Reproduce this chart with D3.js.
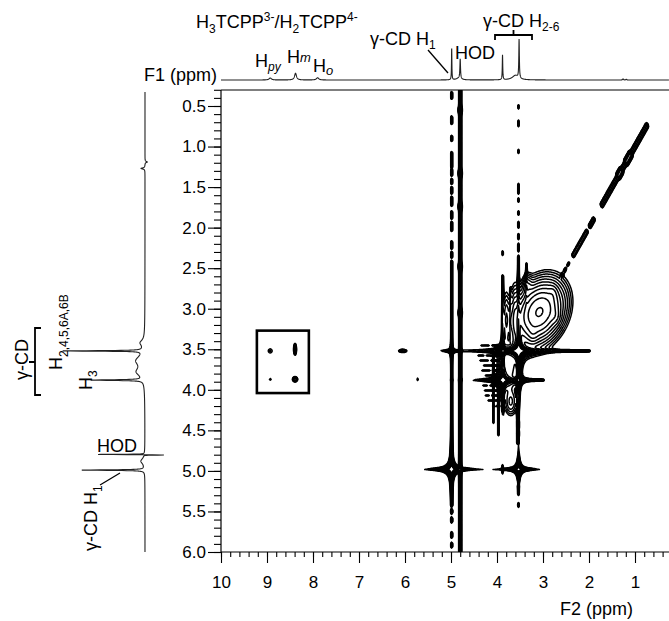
<!DOCTYPE html>
<html>
<head>
<meta charset="utf-8">
<script src="https://cdn.jsdelivr.net/npm/d3@7"></script>
<style>
  html, body { margin: 0; padding: 0; background: #fff; }
  svg { display: block; font-family: "Liberation Sans", Arial, Helvetica, sans-serif; }
</style>
</head>
<body>
<svg id="noesy" width="669" height="621"></svg>
<script>
// ---------- axis tick values (ppm) ----------
const f1MajorTicks = [0.5, 1.0, 1.5, 2.0, 2.5, 3.0, 3.5, 4.0, 4.5, 5.0, 5.5, 6.0];
const f2MajorTicks = [10, 9, 8, 7, 6, 5, 4, 3, 2, 1];

// ---------- 1D 1H projections: [shift ppm, relative height, half-width ppm] ----------
const f2Projection = [
  [8.93, 0.045, 0.03],
  [8.38, 0.15, 0.025],
  [7.90, 0.05, 0.03],
  [4.985, 0.71, 0.005],
  [4.80, 0.44, 0.008],
  [4.83, 0.04, 0.06],
  [3.88, 0.55, 0.006],
  [3.52, 0.86, 0.007],
  [3.60, 0.10, 0.08],
  [1.26, 0.025, 0.01],
  [1.19, 0.015, 0.01]
];
const f1Projection = [
  [1.19, -0.03, 0.008],
  [1.27, 0.05, 0.008],
  [3.42, 0.05, 0.04],
  [3.52, 1.00, 0.004],
  [3.64, 0.10, 0.07],
  [3.78, 0.09, 0.06],
  [3.88, 0.65, 0.005],
  [4.797, 0.62, 0.002],
  [4.804, -0.30, 0.002],
  [4.88, 0.05, 0.04],
  [4.99, 0.79, 0.004]
];

// ---------- 2D NOESY resonances ----------
// Lorentzian cross/diagonal peaks: [F2, F1, width F2, width F1, intensity]
const lorentzPeaks = [
  [3.53, 3.52, 0.022, 0.013, 3000],
  [3.87, 3.88, 0.018, 0.012, 1400],
  [4.99, 4.98, 0.015, 0.012, 1500],
  [3.53, 4.98, 0.020, 0.010, 500],
  [4.99, 3.52, 0.012, 0.008, 250],
  [3.53, 3.88, 0.016, 0.014, 300],
  [3.87, 3.52, 0.016, 0.014, 300]
];
// Gaussian spots: [F2, F1, sd F2, sd F1, correlation, intensity]
const gaussPeaks = [
  [3.08, 3.04, 0.28, 0.20, 0.25, 30],
  [3.34, 2.70, 0.06, 0.08, 0, 3],
  [2.72, 3.10, 0.07, 0.06, 0, 3],
  [3.22, 3.32, 0.07, 0.07, 0, 3],
  [2.78, 2.80, 0.06, 0.06, 0, 2.5],
  [3.62, 3.15, 0.05, 0.25, 0, 4],
  [3.80, 3.12, 0.04, 0.20, 0, 3],
  [3.75, 3.72, 0.12, 0.16, 0, 7],
  [3.70, 4.15, 0.08, 0.10, 0, 4],
  [8.93, 3.52, 0.045, 0.028, 0, 1.5],
  [8.39, 3.50, 0.018, 0.042, 0, 5],
  [8.93, 3.87, 0.014, 0.009, 0, 2],
  [8.39, 3.87, 0.028, 0.016, 0, 8],
  [6.05, 3.52, 0.050, 0.012, 0, 4],
  [5.72, 3.87, 0.010, 0.016, 0, 2],
  [6.00, 5.95, 0.008, 0.020, 0, 2.5],
  [3.88, 4.98, 0.010, 0.030, 0, 5],
  [4.80, 0.55, 0.026, 0.030, 0, 4],
  [4.80, 1.33, 0.026, 0.030, 0, 4],
  [4.80, 1.74, 0.026, 0.030, 0, 4],
  [4.80, 2.48, 0.026, 0.030, 0, 4],
  [4.80, 3.05, 0.026, 0.030, 0, 4]
];
// t1 streaks along F1: [F2, F1 from, F1 to, sd F2, intensity]
const f1Streaks = [
  [4.80, 0.25, 6.10, 0.017, 6],
  [4.985, 0.34, 0.40, 0.014, 3], [4.985, 0.64, 0.71, 0.014, 3], [4.985, 0.88, 0.92, 0.014, 3],
  [4.985, 1.08, 1.25, 0.014, 3], [4.985, 1.29, 1.35, 0.014, 3], [4.985, 1.41, 1.45, 0.014, 3],
  [4.985, 1.51, 1.57, 0.014, 3], [4.985, 1.63, 1.72, 0.014, 3], [4.985, 1.81, 1.88, 0.014, 3],
  [4.985, 1.94, 2.03, 0.014, 3], [4.985, 2.18, 2.25, 0.014, 3], [4.985, 2.31, 2.36, 0.014, 3],
  [4.985, 2.42, 5.42, 0.014, 3], [4.985, 5.49, 5.51, 0.014, 3], [4.985, 5.59, 5.62, 0.014, 3],
  [4.985, 5.77, 5.81, 0.014, 3], [4.985, 5.90, 5.93, 0.014, 3],
  [3.535, 0.50, 0.52, 0.012, 2.2], [3.535, 0.69, 0.74, 0.012, 2.2], [3.535, 1.05, 1.07, 0.012, 2.2],
  [3.535, 1.47, 1.57, 0.012, 2.2], [3.535, 1.65, 1.67, 0.012, 2.2], [3.535, 1.81, 1.83, 0.012, 2.2],
  [3.535, 1.94, 1.99, 0.012, 2.2], [3.535, 2.09, 2.13, 0.012, 2.2], [3.535, 2.21, 2.28, 0.012, 2.2],
  [3.535, 2.36, 3.30, 0.012, 2.5], [3.535, 4.40, 4.46, 0.012, 2.2], [3.535, 4.52, 4.56, 0.012, 2.2],
  [3.535, 5.19, 5.28, 0.012, 2.2], [3.535, 5.41, 5.43, 0.012, 2.2],
  [3.875, 2.60, 4.25, 0.012, 2.5], [3.875, 2.30, 2.33, 0.012, 2],
  [3.36, 2.45, 3.05, 0.012, 2],
  [3.70, 2.75, 3.40, 0.012, 2],
  [4.08, 3.60, 4.40, 0.012, 2],
  [3.97, 3.95, 4.55, 0.012, 2.5],
  [3.55, 3.60, 4.65, 0.014, 3]
];
// ridges along F2: [F1, F2 from, F2 to, sd F1, intensity]
const f2Ridges = [
  [3.52, 2.00, 3.45, 0.008, 2.5],
  [3.88, 3.00, 4.30, 0.008, 2],
  [3.45, 3.98, 4.10, 0.005, 1.8], [3.45, 4.18, 4.34, 0.005, 1.8],
  [3.58, 3.95, 4.22, 0.005, 1.8], [3.58, 4.30, 4.40, 0.005, 1.8],
  [3.64, 3.95, 4.12, 0.005, 1.8], [3.64, 4.20, 4.36, 0.005, 1.8],
  [3.70, 3.95, 4.28, 0.005, 1.8],
  [3.76, 3.95, 4.08, 0.005, 1.8], [3.76, 4.16, 4.32, 0.005, 1.8],
  [3.82, 3.95, 4.24, 0.005, 1.8],
  [3.95, 3.95, 4.14, 0.005, 1.8], [3.95, 4.22, 4.30, 0.005, 1.8],
  [4.01, 3.95, 4.26, 0.005, 1.8],
  [4.07, 3.95, 4.10, 0.005, 1.8], [4.07, 4.18, 4.24, 0.005, 1.8],
  [4.13, 3.95, 4.18, 0.005, 1.8],
  [4.20, 3.95, 4.06, 0.005, 1.8]
];
// diagonal runs: [from ppm, to ppm, sd across, intensity]
const diagonalRuns = [
  [0.74, 1.72, 0.035, 4],
  [1.10, 1.19, 0.040, 9],
  [1.30, 1.36, 0.040, 9],
  [1.90, 1.98, 0.030, 4],
  [2.05, 2.34, 0.030, 3.5],
  [2.44, 2.46, 0.020, 2],
  [2.51, 2.53, 0.020, 2],
  [2.58, 2.60, 0.020, 2]
];
const contourLevels = [1, 1.4, 1.96, 2.74, 3.84, 5.38, 7.53, 10.5, 14.8, 20.7, 28.9, 40.5, 56.7, 79.4];

// box around the porphyrin / cyclodextrin cross peaks (ppm)
const boxF2 = [9.22, 8.09];
const boxF1 = [3.27, 4.04];

// ---------- layout ----------
const svg = d3.select('#noesy');
const plotLeft = 221, plotRight = 669, plotTop = 90, plotBottom = 552;
const x = d3.scaleLinear().domain([10, 0]).range([221, 681]);
const y = d3.scaleLinear().domain([0.5, 6.0]).range([106, 552]);
const topTrace = d3.scaleLinear().domain([0, 1]).range([80, 35]);
const leftTrace = d3.scaleLinear().domain([0, 1]).range([145, 65]);

// ---------- 2D intensity field ----------
const nx = plotRight - plotLeft, ny = plotBottom - plotTop;
const gf2 = Float64Array.from({ length: nx }, (_, i) => x.invert(plotLeft + i + 0.5));
const gf1 = Float64Array.from({ length: ny }, (_, j) => y.invert(plotTop + j + 0.5));
const field = new Float64Array(nx * ny);

const clampI = v => Math.max(0, Math.min(nx - 1, v));
const clampJ = v => Math.max(0, Math.min(ny - 1, v));
function cols(a, b) {
  const p0 = x(Math.max(a, b)) - plotLeft, p1 = x(Math.min(a, b)) - plotLeft;
  return [clampI(Math.floor(p0) - 1), clampI(Math.ceil(p1) + 1)];
}
function rows(a, b) {
  const p0 = y(Math.min(a, b)) - plotTop, p1 = y(Math.max(a, b)) - plotTop;
  return [clampJ(Math.floor(p0) - 1), clampJ(Math.ceil(p1) + 1)];
}
const capSd = 0.012;
function cap(t, a, b) {
  if (t < a) return Math.exp(-((a - t) ** 2) / (2 * capSd * capSd));
  if (t > b) return Math.exp(-((t - b) ** 2) / (2 * capSd * capSd));
  return 1;
}

lorentzPeaks.forEach(([c2, c1, w2, w1, amp]) => {
  for (let j = 0; j < ny; j++) {
    const b = (gf1[j] - c1) / w1, lb = 1 + b * b;
    for (let i = 0; i < nx; i++) {
      const a = (gf2[i] - c2) / w2;
      field[j * nx + i] += amp / ((1 + a * a) * lb);
    }
  }
});

gaussPeaks.forEach(([c2, c1, s2, s1, rho, amp]) => {
  const [i0, i1] = cols(c2 - 5 * s2, c2 + 5 * s2);
  const [j0, j1] = rows(c1 - 5 * s1, c1 + 5 * s1);
  const k = 1 / (2 * (1 - rho * rho));
  for (let j = j0; j <= j1; j++) {
    const b = (gf1[j] - c1) / s1;
    for (let i = i0; i <= i1; i++) {
      const a = (gf2[i] - c2) / s2;
      field[j * nx + i] += amp * Math.exp(-k * (a * a - 2 * rho * a * b + b * b));
    }
  }
});

f1Streaks.forEach(([c2, fa, fb, s2, amp]) => {
  const [i0, i1] = cols(c2 - 5 * s2, c2 + 5 * s2);
  const [j0, j1] = rows(fa - 5 * capSd, fb + 5 * capSd);
  for (let j = j0; j <= j1; j++) {
    const m = amp * cap(gf1[j], fa, fb);
    for (let i = i0; i <= i1; i++) {
      const a = (gf2[i] - c2) / s2;
      field[j * nx + i] += m * Math.exp(-0.5 * a * a);
    }
  }
});

f2Ridges.forEach(([c1, fa, fb, s1, amp]) => {
  const [i0, i1] = cols(fa - 5 * capSd, fb + 5 * capSd);
  const [j0, j1] = rows(c1 - 5 * s1, c1 + 5 * s1);
  for (let j = j0; j <= j1; j++) {
    const b = (gf1[j] - c1) / s1, g = amp * Math.exp(-0.5 * b * b);
    for (let i = i0; i <= i1; i++) {
      field[j * nx + i] += g * cap(gf2[i], fa, fb);
    }
  }
});

diagonalRuns.forEach(([ua, ub, sv, amp]) => {
  const [i0, i1] = cols(ua - 0.2, ub + 0.2);
  const [j0, j1] = rows(ua - 0.2, ub + 0.2);
  for (let j = j0; j <= j1; j++) {
    for (let i = i0; i <= i1; i++) {
      const v = (gf2[i] - gf1[j]) / sv;
      if (Math.abs(v) > 6) continue;
      const u = 0.5 * (gf2[i] + gf1[j]);
      field[j * nx + i] += amp * Math.exp(-0.5 * v * v) * cap(u, ua, ub);
    }
  }
});

// ---------- contours ----------
svg.append('clipPath').attr('id', 'plotClip')
  .append('rect').attr('x', plotLeft).attr('y', plotTop)
  .attr('width', plotRight - plotLeft).attr('height', plotBottom - plotTop);

const gridToPx = d3.geoTransform({
  point(px, py) { this.stream.point(plotLeft + px, plotTop + py); }
});
const contourPath = d3.geoPath(gridToPx);
const contourSet = d3.contours().size([nx, ny]).thresholds(contourLevels)(field);

svg.append('g').attr('clip-path', 'url(#plotClip)')
  .selectAll('path').data(contourSet).join('path')
  .attr('d', contourPath)
  .attr('fill', 'none')
  .attr('stroke', '#000')
  .attr('stroke-width', 1.5)
  .attr('stroke-linejoin', 'round');

// ---------- frame and axes ----------
const frame = svg.append('g').attr('stroke', '#000').attr('stroke-width', 1.2);
frame.append('line').attr('x1', plotLeft).attr('x2', plotRight).attr('y1', plotTop).attr('y2', plotTop);
frame.append('line').attr('x1', plotLeft).attr('x2', plotLeft).attr('y1', plotTop).attr('y2', plotBottom);
frame.append('line').attr('x1', plotLeft).attr('x2', plotRight).attr('y1', plotBottom).attr('y2', plotBottom);

const f1Minor = d3.range(3, 61).map(k => k / 10);
const f2Minor = d3.range(2, 51).map(k => k / 5).filter(v => x(v) <= plotRight);

function styleAxis(g) {
  g.select('.domain').remove();
  g.attr('font-family', null).attr('font-size', 17);
  g.selectAll('line').attr('stroke-width', 1.1);
  g.selectAll('text').attr('fill', '#000');
}

svg.append('g').attr('transform', `translate(${plotLeft},0)`)
  .call(d3.axisLeft(y).tickValues(f1Minor).tickSize(7).tickFormat(''))
  .call(styleAxis);
svg.append('g').attr('transform', `translate(${plotLeft},0)`)
  .call(d3.axisLeft(y).tickValues(f1MajorTicks).tickSize(13).tickPadding(2).tickFormat(d3.format('.1f')))
  .call(styleAxis);
svg.append('g').attr('transform', `translate(0,${plotBottom})`)
  .call(d3.axisBottom(x).tickValues(f2Minor).tickSize(5).tickFormat(''))
  .call(styleAxis);
svg.append('g').attr('transform', `translate(0,${plotBottom})`)
  .call(d3.axisBottom(x).tickValues(f2MajorTicks).tickSize(11).tickPadding(13).tickFormat(d3.format('d')))
  .call(styleAxis);

// annotation box
svg.append('rect')
  .attr('x', x(boxF2[0])).attr('y', y(boxF1[0]))
  .attr('width', x(boxF2[1]) - x(boxF2[0])).attr('height', y(boxF1[1]) - y(boxF1[0]))
  .attr('fill', 'none').attr('stroke', '#000').attr('stroke-width', 2.6);

// ---------- 1D projections ----------
const lorentz = (list, f) => list.reduce((s, [c, h, w]) => s + h / (1 + ((f - c) / w) ** 2), 0);

const topPts = d3.range(10, x.invert(plotRight), -0.002).map(f => [f, lorentz(f2Projection, f)]);
svg.append('path').datum(topPts)
  .attr('d', d3.line().x(d => x(d[0])).y(d => topTrace(d[1])))
  .attr('fill', 'none').attr('stroke', '#222').attr('stroke-width', 1.1);

const leftPts = d3.range(y.invert(92), 6.0005, 0.001).map(f => [f, lorentz(f1Projection, f)]);
svg.append('path').datum(leftPts)
  .attr('d', d3.line().x(d => leftTrace(d[1])).y(d => y(d[0])))
  .attr('fill', 'none').attr('stroke', '#222').attr('stroke-width', 1.1);

// ---------- text labels ----------
function rich(parent, parts, px, py, size) {
  const t = parent.append('text').attr('x', px).attr('y', py)
    .attr('font-size', size).attr('fill', '#000');
  let shift = 0;
  parts.forEach(p => {
    const off = p.off || 0;
    t.append('tspan').text(p.t)
      .attr('dy', off - shift)
      .attr('font-size', p.fs || null)
      .attr('font-style', p.it ? 'italic' : null);
    shift = off;
  });
  return t;
}

svg.append('text').attr('x', 144).attr('y', 81).attr('font-size', 18).text('F1 (ppm)');
svg.append('text').attr('x', 560).attr('y', 615).attr('font-size', 18).text('F2 (ppm)');

rich(svg, [
  { t: 'H' }, { t: '3', off: 5, fs: 12 }, { t: 'TCPP' }, { t: '3-', off: -7, fs: 12 },
  { t: '/H' }, { t: '2', off: 5, fs: 12 }, { t: 'TCPP' }, { t: '4-', off: -7, fs: 12 }
], 196, 28, 18);
rich(svg, [{ t: 'H' }, { t: 'py', off: 4, fs: 12, it: true }], 255, 67, 18);
rich(svg, [{ t: 'H' }, { t: 'm', off: -1, fs: 13, it: true }], 287, 63, 18);
rich(svg, [{ t: 'H' }, { t: 'o', off: 3, fs: 13, it: true }], 313, 72, 18);
rich(svg, [{ t: 'γ-CD H' }, { t: '1', off: 4, fs: 12 }], 370, 45, 18);
rich(svg, [{ t: 'HOD' }], 455, 59, 18);
rich(svg, [{ t: 'γ-CD H' }, { t: '2-6', off: 4, fs: 12 }], 483, 27, 18);

const marks = svg.append('g').attr('stroke', '#000').attr('fill', 'none');
marks.append('line').attr('x1', 428).attr('y1', 50).attr('x2', 448).attr('y2', 73).attr('stroke-width', 1.3);
marks.append('path').attr('d', 'M495,40V35H532V40M513.5,35V30').attr('stroke-width', 1.8);

// left-hand labels (rotated)
const lbl = (px, py) => svg.append('g').attr('transform', `translate(${px},${py}) rotate(-90)`);
rich(lbl(28, 380), [{ t: 'γ-CD' }], 0, 0, 18);
rich(lbl(62, 370), [{ t: 'H' }, { t: '2,4,5,6A,6B', off: 6, fs: 12 }], 0, 0, 18);
rich(lbl(92, 390), [{ t: 'H' }, { t: '3', off: 5, fs: 12 }], 0, 0, 18);
rich(lbl(97, 551), [{ t: 'γ-CD H' }, { t: '1', off: 5, fs: 12 }], 0, 0, 18);
rich(svg, [{ t: 'HOD' }], 97, 452, 18);

marks.append('path').attr('d', 'M41,328H35V395H41M35,362H29').attr('stroke-width', 1.8);
marks.append('line').attr('x1', 100).attr('y1', 485).attr('x2', 120).attr('y2', 473).attr('stroke-width', 1.3);
</script>
</body>
</html>
